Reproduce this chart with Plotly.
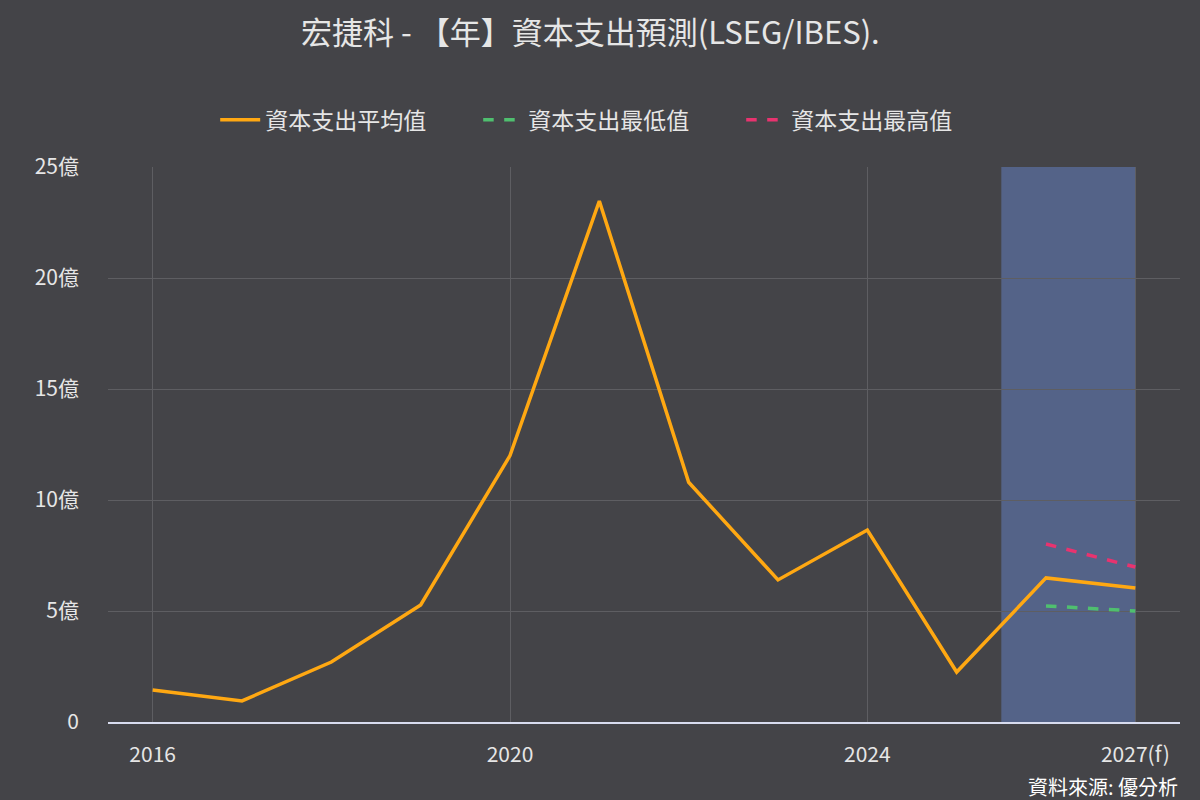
import plotly.graph_objects as go

years = list(range(2016, 2028))
capex_avg = [1.44, 0.95, 2.7, 5.27, 12.0, 23.47, 10.8, 6.4, 8.65, 2.25, 6.49, 6.04]
forecast_years = [2026, 2027]
capex_low = [5.23, 5.0]
capex_high = [8.02, 6.98]

y_ticks = [0, 5, 10, 15, 20, 25]
y_labels = ["0", "5億", "10億", "15億", "20億", "25億"]
x_ticks = [2016, 2020, 2024, 2027]
x_labels = ["2016", "2020", "2024", "2027(f)"]

font = "Noto Sans CJK TC"
bg = "#444448"

fig = go.Figure()
fig.add_trace(go.Scatter(x=years, y=capex_avg, mode="lines", name="資本支出平均值",
                         line=dict(color="#FFA812", width=3.5)))
fig.add_trace(go.Scatter(x=forecast_years, y=capex_low, mode="lines", name="資本支出最低值",
                         line=dict(color="#4FBF6F", width=3.5, dash="dash")))
fig.add_trace(go.Scatter(x=forecast_years, y=capex_high, mode="lines", name="資本支出最高值",
                         line=dict(color="#E8336F", width=3.5, dash="dash")))

# forecast shading
fig.add_vrect(x0=2025.5, x1=2027, fillcolor="#5A6E9E", opacity=0.75,
              line_width=0, layer="below")

fig.add_annotation(text="資料來源: 優分析", xref="paper", yref="paper",
                   x=1, y=-0.117, xanchor="right", yanchor="middle", showarrow=False,
                   font=dict(size=20, color="#ffffff", family=font))

fig.update_layout(
    width=1200, height=800,
    paper_bgcolor=bg, plot_bgcolor=bg,
    font=dict(family=font, color="#e6e6e6", size=21),
    title=dict(text="宏捷科 - 【年】資本支出預測(LSEG/IBES).", x=0.492, y=0.958,
               xanchor="center", yanchor="middle",
               font=dict(size=31, color="#e6e6e6")),
    legend=dict(orientation="h", x=0.468, xanchor="center", y=1.085, yanchor="middle",
                font=dict(size=23, color="#e6e6e6"), itemwidth=40,
                entrywidth=208, entrywidthmode="pixels"),
    margin=dict(l=108, r=20, t=167, b=78),
    showlegend=True,
    xaxis=dict(range=[2015.5, 2027.5], tickvals=x_ticks, ticktext=x_labels,
               showgrid=True, gridcolor="#5e5e62", gridwidth=1,
               showline=True, linecolor="#d8dcef", linewidth=2,
               zeroline=False, ticks="", tickfont=dict(size=21), ticklabelstandoff=13),
    yaxis=dict(range=[0, 25], tickvals=y_ticks, ticktext=y_labels,
               showgrid=True, gridcolor="#5e5e62", gridwidth=1,
               zeroline=False, showline=False, ticks="", tickfont=dict(size=21),
               ticklabelstandoff=28),
)

fig.write_html("out.html", config={"displayModeBar": False},
               post_script="document.body.style.margin='0';")
